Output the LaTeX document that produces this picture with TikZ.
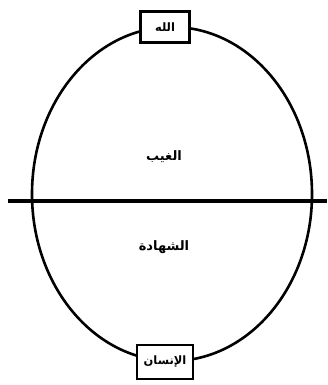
\documentclass[tikz,border=0pt]{standalone}
\usepackage{fontspec}
\usetikzlibrary{shapes.geometric}
\newfontfamily\arabicfont[Script=Arabic]{DejaVu Sans}
\TeXXeTstate=1
\begin{document}
\begin{tikzpicture}[x=1pt,y=-1pt,
  lbl/.style={font=\arabicfont\bfseries\fontsize{13}{15}\selectfont, inner sep=0pt},
  boxnode/.style={draw, line width=2.6pt, fill=white, inner sep=0pt, font=\arabicfont\bfseries\fontsize{11.5}{13}\selectfont}]
\useasboundingbox (0,0) rectangle (327,385);
\node[draw, ellipse, line width=2.6pt, minimum width=280pt, minimum height=334pt, inner sep=0pt] (oval) at (172,194) {};
\coordinate (lineL) at (8,201);
\coordinate (lineR) at (327,201);
\draw[line width=3.2pt] (lineL) -- (lineR);
\node[boxnode, minimum width=49pt, minimum height=31pt] (allah) at (165,27) {\beginR الله\endR};
\node[boxnode, minimum width=56pt, minimum height=34pt] (insan) at (165,362) {\beginR الإنسان\endR};
\node[lbl] (ghayb) at (164,157) {\beginR الغيب\endR};
\node[lbl] (shahada) at (164,247) {\beginR الشهادة\endR};
\end{tikzpicture}
\end{document}
